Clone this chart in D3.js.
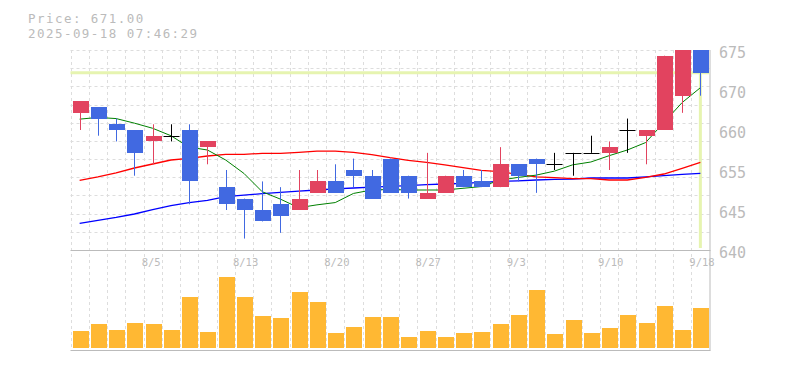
<!DOCTYPE html>
<html>
<head>
<meta charset="utf-8">
<script src="https://cdn.jsdelivr.net/npm/d3@7"></script>
<style>
  body { margin: 0; background: #fff; }
  svg { display: block; }
</style>
</head>
<body>
<svg width="785" height="370"></svg>
<script>
// Trading days shown on the chart
var dates = [
  "7/30", "7/31", "8/1", "8/4", "8/5", "8/6", "8/7", "8/8", "8/12", "8/13",
  "8/14", "8/15", "8/18", "8/19", "8/20", "8/21", "8/22", "8/25", "8/26", "8/27",
  "8/28", "8/29", "9/1", "9/2", "9/3", "9/4", "9/5", "9/8", "9/9", "9/10",
  "9/11", "9/12", "9/16", "9/17", "9/18",
];

// OHLC values
var openPrices = [664, 665, 662, 661, 659, 660, 661, 658, 651, 649, 647, 648, 647, 650, 652, 654, 653, 656, 653, 649, 650, 653, 652, 651, 655, 656, 655, 657, 657, 657, 661, 660, 661, 667, 675];
var highPrices = [666, 665, 663, 661, 662, 662, 662, 659, 654, 649, 652, 651, 654, 654, 655, 656, 654, 656, 653, 657, 653, 654, 654, 658, 655, 656, 657, 657, 660, 659, 663, 661, 674, 675, 675];
var lowPrices = [661, 660, 659, 653, 655, 659, 648, 655, 647, 642, 645, 643, 647, 650, 650, 651, 649, 650, 649, 649, 650, 651, 651, 651, 652, 650, 654, 653, 657, 654, 657, 655, 661, 664, 667];
var closePrices = [666, 663, 661, 657, 660, 660, 652, 659, 648, 647, 645, 646, 649, 652, 650, 653, 649, 650, 650, 650, 653, 651, 651, 655, 653, 655, 655, 657, 657, 658, 661, 661, 674, 675, 671];

// Moving averages (short / mid / long)
var ma5 = [662.9, 663.2, 663.0, 662.2, 661.3, 660.0, 658.0, 657.5, 655.75, 653.4, 650.2, 648.9, 647.4, 647.9, 648.3, 649.9, 650.5, 650.6, 650.5, 650.5, 650.5, 650.8, 651.1, 652.2, 652.7, 653.1, 653.8, 654.9, 655.4, 656.5, 657.5, 658.8, 662.3, 665.8, 668.4];
var ma25 = [652.2, 652.8, 653.5, 654.35, 655.05, 655.75, 656.05, 656.45, 656.75, 656.75, 656.9, 656.9, 657.1, 657.3, 657.3, 657.1, 656.7, 656.15, 655.7, 655.35, 654.9, 654.4, 653.95, 653.7, 653.25, 652.8, 652.65, 652.5, 652.5, 652.25, 652.25, 652.7, 653.3, 654.3, 655.35];
var ma75 = [644.65, 645.2, 645.7, 646.3, 647.05, 647.75, 648.3, 648.7, 649.35, 649.6, 649.85, 650.1, 650.3, 650.5, 650.7, 650.85, 651.0, 651.15, 651.25, 651.45, 651.55, 651.65, 651.85, 652.0, 652.1, 652.25, 652.35, 652.4, 652.6, 652.6, 652.6, 652.8, 653.0, 653.25, 653.4];

// Daily volume
var volumes = [25500, 36000, 27000, 37500, 36000, 27000, 76500, 24000, 106500, 76500, 48000, 45000, 84000, 69000, 22500, 31500, 46500, 46500, 16500, 25500, 16500, 22500, 24000, 36000, 49500, 87000, 21000, 42000, 22500, 30000, 49500, 37500, 63000, 27000, 60000];

// Axis ticks
var yTicks = [640, 647, 654, 661, 668, 675];
var yTickLabels = ["640", "645", "655", "660", "670", "675"];
var xTickDates = ["8/5", "8/13", "8/20", "8/27", "9/3", "9/10", "9/18"];

var lastPrice = 671;
var headerLines = ["Price: 671.00", "2025-09-18 07:46:29"];

var svg = d3.select("svg");
var font = "'DejaVu Sans Mono', 'Liberation Mono', monospace";
var textColor = "#bbbbbb";

// Plot areas
var left = 70.5, right = 709.5;
var priceTop = 50, priceBottom = 250;
var volBottom = 348, volBorder = 350.5;

var xScale = d3.scaleBand().domain(dates).range([left, right]).padding(0);
var cx = function (d) { return xScale(d) + xScale.bandwidth() / 2; };
var yScale = d3.scaleLinear().domain([640, 675]).range([priceBottom, priceTop]);
var volScale = d3.scaleLinear().domain([0, 150000]).range([volBottom, volBottom - 100]);

var rows = dates.map(function (d, i) {
  return {
    date: d, open: openPrices[i], high: highPrices[i], low: lowPrices[i],
    close: closePrices[i], volume: volumes[i],
  };
});

//Header text (smaller size + letter spacing keeps the wide monospace look)
svg.selectAll(".header")
  .data(headerLines)
  .join("text")
  .attr("class", "header")
  .attr("x", 28)
  .attr("y", function (d, i) { return 23 + i * 15; })
  .attr("font-family", font)
  .attr("font-size", "12.5px")
  .attr("letter-spacing", "1.45px")
  .attr("fill", textColor)
  .text(function (d) { return d; });

var grid = svg.append("g").attr("class", "grid");

//Horizontal grid lines of the price panel
var hGrid = d3.range(0, 11).map(function (k) { return priceTop + k * (priceBottom - priceTop) / 11; });
grid.selectAll(".hgrid")
  .data(hGrid)
  .join("line")
  .attr("class", "hgrid")
  .attr("x1", left).attr("x2", right)
  .attr("y1", function (d) { return Math.round(d) + 0.5; })
  .attr("y2", function (d) { return Math.round(d) + 0.5; })
  .attr("stroke", "#dddddd")
  .attr("stroke-dasharray", "3,3");

//Vertical grid lines at each band edge
var vGrid = dates.map(function (d) { return xScale(d); });
grid.selectAll(".vgrid")
  .data(vGrid)
  .join("line")
  .attr("class", "vgrid")
  .attr("x1", function (d) { return Math.round(d) + 0.5; })
  .attr("x2", function (d) { return Math.round(d) + 0.5; })
  .attr("y1", priceTop).attr("y2", volBorder)
  .attr("stroke", "#dddddd")
  .attr("stroke-dasharray", "3,3");

//Panel borders
grid.append("line")
  .attr("x1", left).attr("x2", right + 1)
  .attr("y1", priceBottom + 0.5).attr("y2", priceBottom + 0.5)
  .attr("stroke", "#bbbbbb");
grid.append("line")
  .attr("x1", left).attr("x2", right + 1)
  .attr("y1", volBorder).attr("y2", volBorder)
  .attr("stroke", "#bbbbbb");
grid.append("line")
  .attr("x1", right + 0.5).attr("x2", right + 0.5)
  .attr("y1", priceTop).attr("y2", volBorder)
  .attr("stroke", "#bbbbbb");

//Current price marker lines
var lastX = cx(dates[dates.length - 1]);
svg.append("line")
  .attr("x1", left).attr("x2", right)
  .attr("y1", yScale(lastPrice)).attr("y2", yScale(lastPrice))
  .attr("stroke", "#e6f4b0")
  .attr("stroke-width", 3);
svg.append("line")
  .attr("x1", lastX).attr("x2", lastX)
  .attr("y1", yScale(lastPrice)).attr("y2", priceBottom - 2)
  .attr("stroke", "#e6f4b0")
  .attr("stroke-width", 3);

//Moving average lines
var maSeries = [
  { values: ma75, color: "#0000ff" },
  { values: ma25, color: "#ff0000" },
  { values: ma5, color: "#008000" },
];
var line = d3.line()
  .x(function (d, i) { return cx(dates[i]); })
  .y(function (d) { return yScale(d); });
svg.selectAll(".ma")
  .data(maSeries)
  .join("path")
  .attr("class", "ma")
  .attr("fill", "none")
  .attr("stroke", function (d) { return d.color; })
  .attr("stroke-width", function (d) { return d.color === "#008000" ? 1 : 1.3; })
  .attr("d", function (d) { return line(d.values); });

//Candles
var candleColor = function (d) {
  if (d.close > d.open) return "#e2435f";
  if (d.close < d.open) return "#4169e1";
  return "#000000";
};
var candles = svg.append("g").attr("class", "candles");
candles.selectAll(".wick")
  .data(rows)
  .join("line")
  .attr("class", "wick")
  .attr("x1", function (d) { return Math.round(cx(d.date)) + 0.5; })
  .attr("x2", function (d) { return Math.round(cx(d.date)) + 0.5; })
  .attr("y1", function (d) { return yScale(d.high); })
  .attr("y2", function (d) { return yScale(d.low); })
  .attr("stroke", candleColor);
candles.selectAll(".body")
  .data(rows.filter(function (d) { return d.open !== d.close; }))
  .join("rect")
  .attr("class", "body")
  .attr("x", function (d) { return Math.round(cx(d.date)) - 7.5; })
  .attr("width", 16)
  .attr("y", function (d) { return yScale(Math.max(d.open, d.close)); })
  .attr("height", function (d) { return Math.abs(yScale(d.open) - yScale(d.close)); })
  .attr("fill", candleColor)
  .attr("shape-rendering", "crispEdges");
candles.selectAll(".doji")
  .data(rows.filter(function (d) { return d.open === d.close; }))
  .join("line")
  .attr("class", "doji")
  .attr("x1", function (d) { return Math.round(cx(d.date)) - 7.5; })
  .attr("x2", function (d) { return Math.round(cx(d.date)) + 8.5; })
  .attr("y1", function (d) { return Math.round(yScale(d.open)) + 0.5; })
  .attr("y2", function (d) { return Math.round(yScale(d.open)) + 0.5; })
  .attr("stroke", "#000000");

//Volume bars
svg.selectAll(".vol")
  .data(rows)
  .join("rect")
  .attr("class", "vol")
  .attr("x", function (d) { return Math.round(cx(d.date)) - 7.5; })
  .attr("width", 16)
  .attr("y", function (d) { return volScale(d.volume); })
  .attr("height", function (d) { return volBottom - volScale(d.volume); })
  .attr("fill", "#ffb833")
  .attr("shape-rendering", "crispEdges");

//Price axis labels on the right
svg.selectAll(".ylabel")
  .data(yTicks)
  .join("text")
  .attr("class", "ylabel")
  .attr("x", 719)
  .attr("y", function (d) { return yScale(d) + 8; })
  .attr("font-family", font)
  .attr("font-size", "15px")
  .attr("fill", textColor)
  .text(function (d, i) { return yTickLabels[i]; });

//Date labels
svg.selectAll(".xlabel")
  .data(xTickDates)
  .join("text")
  .attr("class", "xlabel")
  .attr("x", function (d) { return cx(d) - 11; })
  .attr("y", 266)
  .attr("font-family", font)
  .attr("font-size", "10.5px")
  .attr("fill", textColor)
  .text(function (d) { return d; });
</script>
</body>
</html>
